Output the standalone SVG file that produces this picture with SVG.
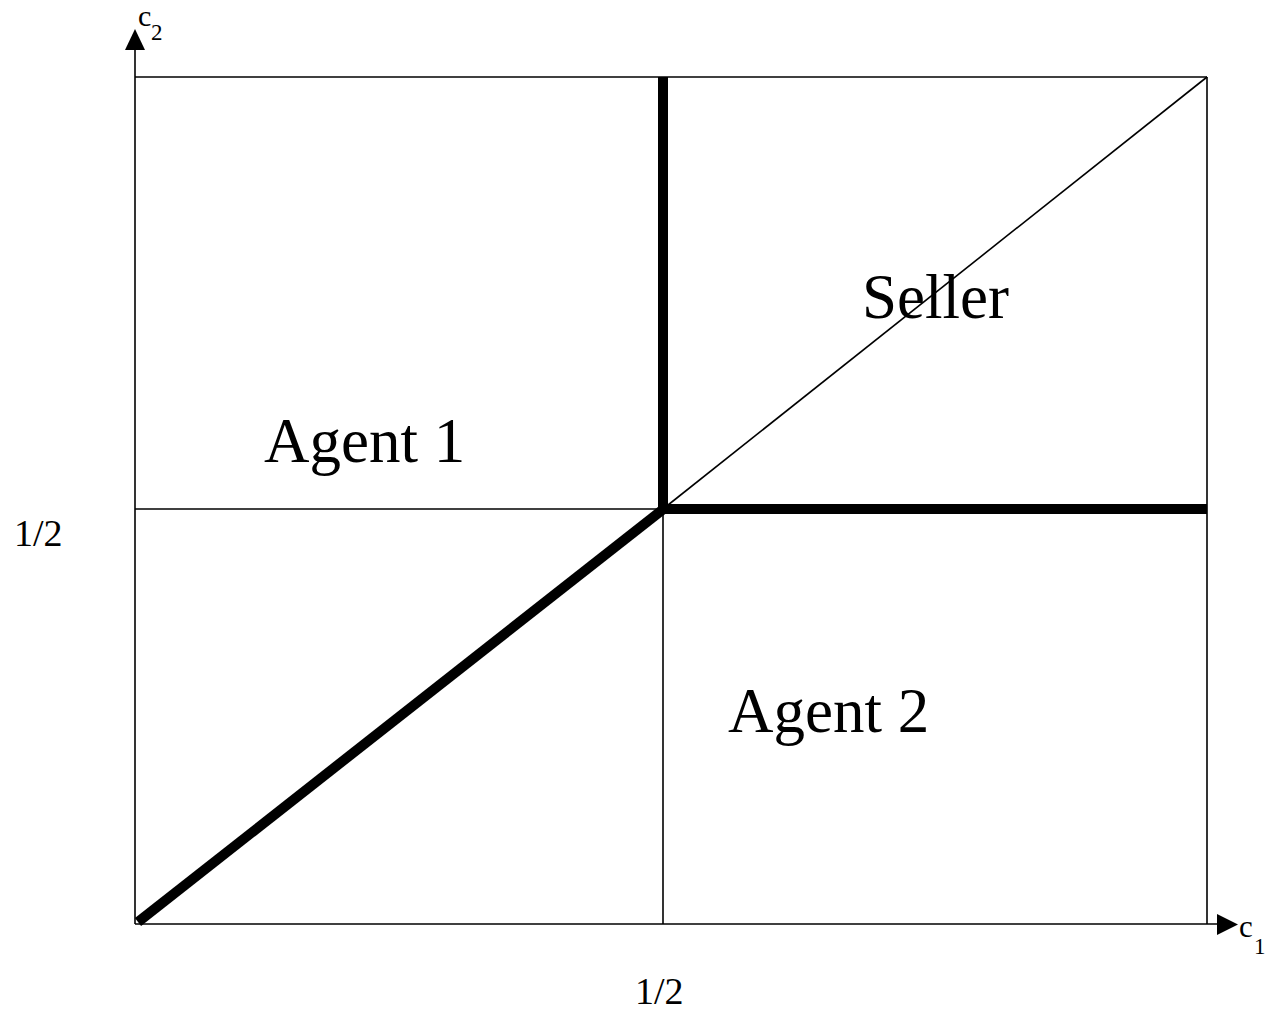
<svg xmlns="http://www.w3.org/2000/svg" width="1266" height="1011" viewBox="0 0 1266 1011">
<style>
.thin{stroke:#000;stroke-width:1.6;fill:none}
.thick{stroke:#000;stroke-width:10;fill:none}
.lbl{font-family:"Liberation Serif","Times New Roman",serif;fill:#000}
</style>
<rect width="1266" height="1011" fill="#fff"/>
<g id="connectors">
<line class="thin" x1="135" y1="924" x2="135" y2="48"/>
<polygon points="135,29 125,50 145,50" fill="#000"/>
<line class="thin" x1="135" y1="924" x2="1219" y2="924"/>
<polygon points="1238,924.5 1217,914 1217,935" fill="#000"/>
<line class="thin" x1="135" y1="77" x2="1207" y2="77"/>
<line class="thin" x1="1207" y1="77" x2="1207" y2="924"/>
<line class="thin" x1="135" y1="509" x2="663" y2="509"/>
<line class="thin" x1="663" y1="509" x2="663" y2="924"/>
<line class="thin" x1="663" y1="509" x2="1207" y2="77"/>
<line class="thick" x1="663" y1="77" x2="663" y2="509"/>
<line class="thick" x1="663" y1="509" x2="1207" y2="509"/>
<line class="thick" x1="138" y1="922" x2="666" y2="507"/>
</g>
<g id="axis-c2"><text class="lbl" x="138" y="26" font-size="30">c</text><text class="lbl" x="151" y="40" font-size="23">2</text></g>
<g id="axis-c1"><text class="lbl" x="1239" y="937" font-size="31">c</text><text class="lbl" x="1254" y="954" font-size="23">1</text></g>
<g id="label-seller"><text class="lbl" x="862" y="318" font-size="63">Seller</text></g>
<g id="label-agent1"><text class="lbl" x="264" y="462" font-size="63">Agent 1</text></g>
<g id="label-agent2"><text class="lbl" x="728" y="732" font-size="63">Agent 2</text></g>
<g id="tick-y"><text class="lbl" x="14" y="546" font-size="38">1/2</text></g>
<g id="tick-x"><text class="lbl" x="635" y="1004" font-size="38">1/2</text></g>
</svg>
